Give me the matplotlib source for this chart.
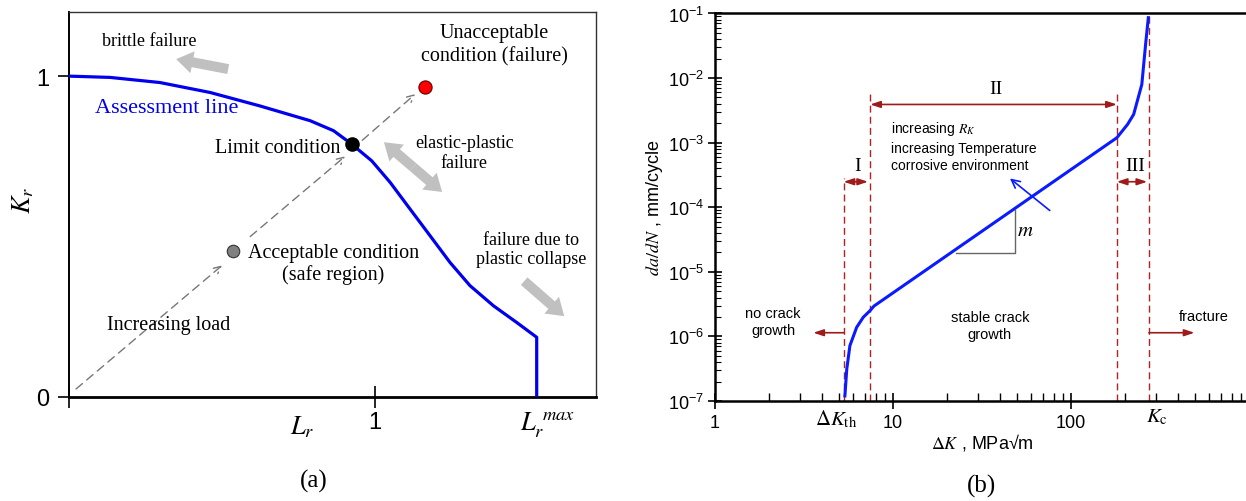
import numpy as np
import matplotlib.pyplot as plt
from matplotlib.ticker import FixedLocator, FuncFormatter, LogLocator, NullFormatter

plt.rcParams['font.family'] = ['Liberation Sans', 'DejaVu Sans']
plt.rcParams['mathtext.fontset'] = 'stix'
plt.rcParams['axes.unicode_minus'] = False

# ---------- panel (a): failure assessment diagram ----------
assess_lr = [0, 0.134, 0.297, 0.461, 0.624, 0.788, 0.864, 0.921, 0.989, 1.049, 1.114, 1.180,
             1.245, 1.310, 1.387, 1.463, 1.528, 1.528]
assess_kr = [1.0, 0.996, 0.980, 0.949, 0.907, 0.861, 0.830, 0.790, 0.736, 0.669, 0.586, 0.502,
             0.419, 0.347, 0.284, 0.232, 0.186, 0.0]

acceptable_pt = (0.536, 0.455)
limit_pt = (0.925, 0.788)
unacceptable_pt = (1.163, 0.967)

# dashed load path, drawn as three pieces with open arrow heads
load_tails = [(0.023, 0.025), (0.592, 0.50), (0.958, 0.80)]
load_heads = [(0.50, 0.41), (0.902, 0.75), (1.131, 0.944)]

# grey block arrows
brittle_arrow = [(0.520, 1.022), (0.350, 1.053)]
elastic_plastic_arrow = [(1.029, 0.794), (1.219, 0.639)]
collapse_arrow = [(1.487, 0.361), (1.618, 0.252)]

# ---------- panel (b): fatigue crack growth curve ----------
delta_k = [5.37, 5.5, 5.73, 6.25, 6.81, 7.43, 7.82, 181, 208, 225, 250, 263, 272]
dadn = [1.2e-7, 3.1e-7, 7.2e-7, 1.38e-6, 1.98e-6, 2.5e-6, 2.95e-6, 1.19e-3, 1.92e-3, 2.74e-3, 7.96e-3, 3.5e-2, 8.6e-2]

dk_th = 5.28
dk_12 = 7.45
dk_23 = 181
k_c = 274
dash_tops = [2.86e-4, 6.05e-3, 6.05e-3, 1e-1]

slope_x = [22.6, 48.2, 48.2]
slope_y = [1.97e-5, 1.97e-5, 9.0e-5]

serif = 'Liberation Serif'
dark_red = '#9e1b1b'
grey_block = '#c0c0c0'

fig = plt.figure(figsize=(12.46, 5.02), dpi=100)
ax_a = fig.add_axes([0.0554, 0.2072, 0.423, 0.767])
ax_b = fig.add_axes([0.5738, 0.1992, 0.4286, 0.772])

# ---- (a)
ax_a.plot(assess_lr, assess_kr, color='#0000ee', lw=2.3, zorder=3)
ax_a.plot(*acceptable_pt, 'o', color='#808080', mec='#333333', mew=0.8, ms=9, zorder=4)
ax_a.plot(*limit_pt, 'o', color='black', ms=9.5, zorder=4)
ax_a.plot(*unacceptable_pt, 'o', color='red', mec='#660000', mew=0.8, ms=9.5, zorder=4)

for t, h in zip(load_tails, load_heads):
    ax_a.annotate('', xy=h, xytext=t,
                  arrowprops=dict(arrowstyle='->,head_length=0.5,head_width=0.25', color='#777777',
                                  lw=1, linestyle=(0, (6, 4)), shrinkA=0, shrinkB=0))


def block_arrow(ax, tail, head):
    ax.annotate('', xy=head, xytext=tail,
                arrowprops=dict(arrowstyle='simple,head_width=0.8,head_length=0.6,tail_width=0.36',
                                fc=grey_block, ec='none', shrinkA=0, shrinkB=0, mutation_scale=20))


block_arrow(ax_a, *brittle_arrow)
block_arrow(ax_a, *collapse_arrow)
mid = ((elastic_plastic_arrow[0][0] + elastic_plastic_arrow[1][0]) / 2,
       (elastic_plastic_arrow[0][1] + elastic_plastic_arrow[1][1]) / 2)
block_arrow(ax_a, mid, elastic_plastic_arrow[0])
block_arrow(ax_a, mid, elastic_plastic_arrow[1])

ax_a.text(0.261, 1.112, 'brittle failure', family=serif, fontsize=13, ha='center', va='center')
ax_a.text(1.389, 1.10, 'Unacceptable\ncondition (failure)', family=serif, fontsize=14.5,
          ha='center', va='center', linespacing=1.25)
ax_a.text(0.085, 0.903, 'Assessment line', family=serif, fontsize=16, color='#0000ee',
          ha='left', va='center')
ax_a.text(0.886, 0.779, 'Limit condition', family=serif, fontsize=14.5, ha='right', va='center')
ax_a.text(1.291, 0.761, 'elastic-plastic\nfailure', family=serif, fontsize=13,
          ha='center', va='center', linespacing=1.25)
ax_a.text(0.863, 0.416, 'Acceptable condition\n(safe region)', family=serif, fontsize=14.5,
          ha='center', va='center', linespacing=1.2)
ax_a.text(1.510, 0.461, 'failure due to\nplastic collapse', family=serif, fontsize=13,
          ha='center', va='center', linespacing=1.2)
ax_a.text(0.324, 0.227, 'Increasing load', family=serif, fontsize=14.5, ha='center', va='center')

ax_a.set_xlim(0, 1.722)
ax_a.set_ylim(0, 1.20)
ax_a.set_xticks([0, 1])
ax_a.set_xticklabels(['', '1'])
ax_a.set_yticks([0, 1])
ax_a.set_yticklabels(['0', '1'])
ax_a.tick_params(axis='x', direction='inout', length=16, width=1.2, labelsize=17, pad=2)
ax_a.tick_params(axis='y', direction='out', length=8, width=1.2, labelsize=17, pad=6)
ax_a.set_ylabel(r'$K_r$', fontsize=19)
ax_a.yaxis.set_label_coords(-0.062, 0.514)
ax_a.text(0.761, -0.09, r'$L_r$', fontsize=19, ha='center', va='center', clip_on=False)
ax_a.text(1.565, -0.085, r'$L_r^{\ max}$', fontsize=19, ha='center', va='center', clip_on=False)
ax_a.spines['bottom'].set_linewidth(2.0)
ax_a.spines['left'].set_linewidth(1.4)
ax_a.spines['top'].set_linewidth(1.0)
ax_a.spines['right'].set_linewidth(1.0)
for s in ['top', 'right']:
    ax_a.spines[s].set_color('#333333')

# ---- (b)
ax_b.set_xscale('log')
ax_b.set_yscale('log')
ax_b.set_xlim(1, 1000)
ax_b.set_ylim(1e-7, 1e-1)

for xv, top in zip([dk_th, dk_12, dk_23, k_c], dash_tops):
    ax_b.plot([xv, xv], [1e-7, top], color='#b22222', lw=1, linestyle=(0, (5, 3)))

ax_b.plot(delta_k, dadn, color='#0a1cff', lw=2.2, zorder=3)
ax_b.plot(slope_x, slope_y, color='#666666', lw=1)
ax_b.text(55.2, 4.5e-5, r'$m$', fontsize=15, ha='center', va='center')

dbl = dict(arrowstyle='<|-|>,head_length=0.6,head_width=0.2', color=dark_red, lw=1.2,
           shrinkA=0, shrinkB=0, mutation_scale=10)
one = dict(arrowstyle='-|>,head_length=0.6,head_width=0.2', color=dark_red, lw=1.2,
           shrinkA=0, shrinkB=0, mutation_scale=10)
ax_b.annotate('', xy=(dk_23, 3.9e-3), xytext=(dk_12, 3.9e-3), arrowprops=dbl)
ax_b.annotate('', xy=(7.24, 2.48e-4), xytext=(dk_th, 2.48e-4), arrowprops=dbl)
ax_b.annotate('', xy=(268, 2.48e-4), xytext=(dk_23, 2.48e-4), arrowprops=dbl)
ax_b.annotate('', xy=(3.57, 1.14e-6), xytext=(dk_th, 1.14e-6), arrowprops=one)
ax_b.annotate('', xy=(494, 1.14e-6), xytext=(k_c, 1.14e-6), arrowprops=one)

ax_b.text(37.8, 6.8e-3, 'II', family=serif, fontsize=14, ha='center', va='center')
ax_b.text(6.36, 4.4e-4, 'I', family=serif, fontsize=14, ha='center', va='center')
ax_b.text(229, 4.4e-4, 'III', family=serif, fontsize=14, ha='center', va='center')

ax_b.annotate('', xy=(45.4, 2.79e-4), xytext=(76, 8.9e-5),
              arrowprops=dict(arrowstyle='->,head_length=0.6,head_width=0.3', color='#0a1cff',
                              lw=1.2, shrinkA=0, shrinkB=0))
ax_b.text(9.77, 2.3e-3, 'increasing $R_K$\nincreasing Temperature\ncorrosive environment',
          fontsize=10, ha='left', va='top', linespacing=1.3)
ax_b.text(2.12, 1.7e-6, 'no crack\ngrowth', fontsize=10.5, ha='center', va='center', linespacing=1.3)
ax_b.text(35, 1.46e-6, 'stable crack\ngrowth', fontsize=10.5, ha='center', va='center', linespacing=1.3)
ax_b.text(556, 2.06e-6, 'fracture', fontsize=10.5, ha='center', va='center')

ax_b.text(4.78, 10 ** -7.27, r'$\Delta K_{\rm th}$', fontsize=15, ha='center', va='center',
          clip_on=False)
ax_b.text(304, 10 ** -7.24, r'$K_{\rm c}$', fontsize=15, ha='center', va='center', clip_on=False)

ax_b.xaxis.set_major_locator(FixedLocator([1, 10, 100, 1000]))
ax_b.xaxis.set_major_formatter(FuncFormatter(lambda v, p: '%d' % v if v < 1000 else ''))
ax_b.xaxis.set_minor_locator(LogLocator(base=10, subs=np.arange(2, 10)))
ax_b.xaxis.set_minor_formatter(NullFormatter())
ax_b.yaxis.set_major_locator(FixedLocator([1e-7, 1e-6, 1e-5, 1e-4, 1e-3, 1e-2, 1e-1]))
ax_b.yaxis.set_major_formatter(FuncFormatter(lambda v, p: r'$\mathregular{10^{%d}}$' % round(np.log10(v))))
ax_b.yaxis.set_minor_locator(LogLocator(base=10, subs=np.arange(2, 10)))
ax_b.yaxis.set_minor_formatter(NullFormatter())
ax_b.tick_params(axis='x', which='major', direction='inout', length=11, width=1.2, labelsize=13, pad=4)
ax_b.tick_params(axis='x', which='minor', direction='in', length=6, width=1)
ax_b.tick_params(axis='y', which='major', direction='inout', length=10, width=1.2, labelsize=13, pad=3)
ax_b.tick_params(axis='y', which='minor', direction='in', length=4, width=0.8)

ax_b.set_xlabel('$\\Delta K$ , MPa\u221am', fontsize=13, labelpad=0)
ax_b.set_ylabel(r'$da/dN$ , mm/cycle', fontsize=13, labelpad=2)
for s in ['left', 'bottom', 'top']:
    ax_b.spines[s].set_linewidth(1.8)

fig.text(0.252, 0.040, '(a)', family=serif, fontsize=18, ha='center', va='center')
fig.text(0.788, 0.030, '(b)', family=serif, fontsize=18, ha='center', va='center')

fig.savefig('out.png', dpi=100)
